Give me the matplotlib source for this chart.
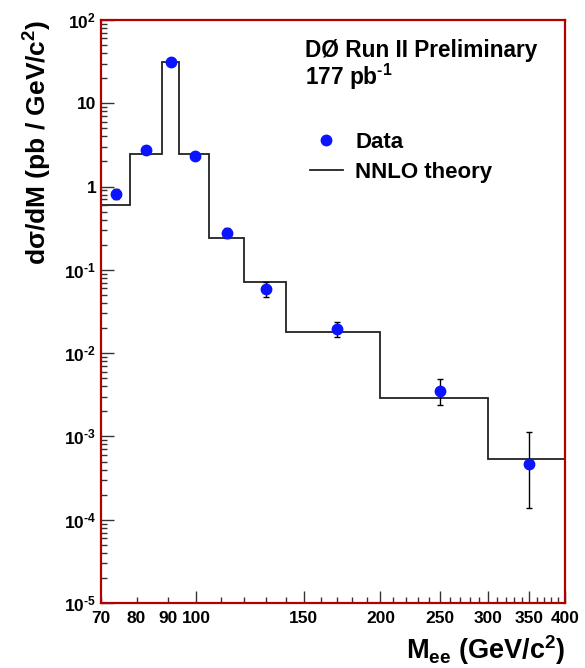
import matplotlib

matplotlib.use("Agg")
import matplotlib.pyplot as plt
from matplotlib.ticker import FixedLocator, FuncFormatter, NullFormatter

# bin edges of the NNLO prediction (GeV/c^2)
edges = [70, 78, 88, 94, 105, 120, 140, 200, 300, 400]
theory = [0.60, 2.45, 31.1, 2.45, 0.244, 0.0712, 0.018, 0.00293, 0.000538]

# measured points
mass = [74, 83, 91, 99.5, 112.5, 130, 170, 250, 350]
data = [0.82, 2.76, 31.7, 2.36, 0.28, 0.059, 0.0197, 0.0035, 0.00047]
err_down = [0.12, 0.18, 1.3, 0.19, 0.04, 0.012, 0.0039, 0.0011, 0.00033]
err_up = [0.11, 0.19, 1.3, 0.19, 0.04, 0.012, 0.0039, 0.0014, 0.00066]

x_major = [100, 150, 200, 250, 300, 350, 400]
x_minor = [70, 80, 90] + [v for v in range(110, 400, 10) if v % 50]
x_minor_labels = [70, 80, 90]
y_ticks = [1e-5, 1e-4, 1e-3, 1e-2, 1e-1, 1, 10, 100]
y_labels = [r"$10^{\text{-5}}$", r"$10^{\text{-4}}$", r"$10^{\text{-3}}$", r"$10^{\text{-2}}$",
            r"$10^{\text{-1}}$", "1", "10", r"$10^{2}$"]

plt.rcParams["font.family"] = ["Liberation Sans", "DejaVu Sans"]
plt.rcParams["font.weight"] = "bold"
plt.rcParams["mathtext.fontset"] = "custom"
plt.rcParams["mathtext.rm"] = "Liberation Sans:bold"
plt.rcParams["mathtext.it"] = "Liberation Sans:bold"
plt.rcParams["mathtext.bf"] = "Liberation Sans:bold"

fig = plt.figure(figsize=(5.85, 6.68), dpi=100)
ax = fig.add_axes([101 / 585, 65 / 668, 464 / 585, 583 / 668])

ax.stairs(theory, edges, baseline=None, color="#222222", lw=1.3, label="NNLO theory")
ax.errorbar(mass, data, yerr=[err_down, err_up], fmt="none", ecolor="black",
            elinewidth=1.0, capsize=2.5, capthick=1.0)
ax.plot(mass, data, "o", color="#0a14ff", ms=7.5, mec="#0a14ff", label="Data", zorder=5)

ax.set_xscale("log")
ax.set_yscale("log")
ax.set_xlim(70, 400)
ax.set_ylim(1e-5, 1e2)

ax.xaxis.set_major_locator(FixedLocator(x_major))
ax.xaxis.set_major_formatter(FuncFormatter(lambda v, p: f"{v:.0f}"))
ax.xaxis.set_minor_locator(FixedLocator(x_minor))
ax.xaxis.set_minor_formatter(FuncFormatter(lambda v, p: f"{v:.0f}" if round(v) in x_minor_labels else ""))
ax.yaxis.set_major_locator(FixedLocator(y_ticks))
ax.set_yticklabels(y_labels)
ax.yaxis.set_minor_locator(FixedLocator([m * 10.0 ** e for e in range(-5, 2) for m in range(2, 10)]))
ax.yaxis.set_minor_formatter(NullFormatter())

ax.tick_params(which="both", direction="in", top=False, right=False, labelsize=12.5, color="#333333")
ax.tick_params(which="major", length=9, width=1.0)
ax.tick_params(which="minor", length=4.5, width=1.0)
ax.tick_params(axis="x", which="both", pad=6)
for spine in ax.spines.values():
    spine.set_color("#b00000")
    spine.set_linewidth(1.6)

ax.set_xlabel(r"M$_{\rm ee}$ (GeV/c$^2$)", fontsize=19.5, fontweight="bold", loc="right", labelpad=5)
ax.set_ylabel(r"d$\sigma$/dM (pb / GeV/c$^2$)", fontsize=19, fontweight="bold", loc="top", labelpad=7)

ax.text(0.44, 0.948, "DØ Run II Preliminary", transform=ax.transAxes, fontsize=16.3,
        fontweight="bold", va="center", ha="left")
ax.text(0.44, 0.902, r"177 pb$^{\text{-1}}$", transform=ax.transAxes, fontsize=16.3,
        fontweight="bold", va="center", ha="left")

handles, labels = ax.get_legend_handles_labels()
ax.legend(handles[::-1], labels[::-1], loc="upper left", bbox_to_anchor=(0.45, 0.808),
          frameon=False, handlelength=1.5, handletextpad=0.55, labelspacing=0.42,
          borderpad=0, borderaxespad=0, prop={"weight": "bold", "size": 16})

fig.savefig("out.png", dpi=100)
